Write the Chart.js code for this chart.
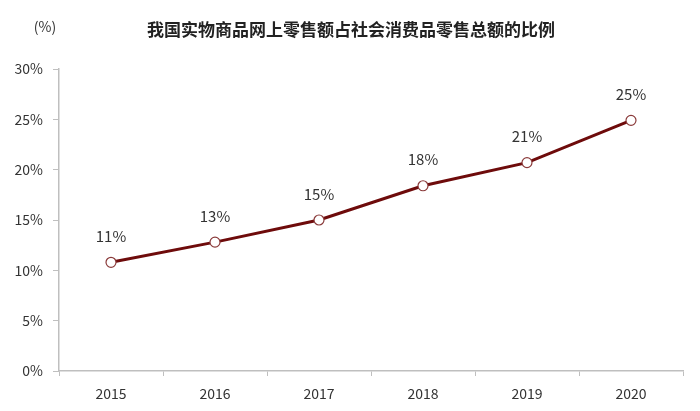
<!DOCTYPE html>
<html>
<head>
<meta charset="utf-8">
<script src="https://cdn.jsdelivr.net/npm/chart.js@4/dist/chart.umd.min.js"></script>
<style>
  html, body { margin: 0; padding: 0; background: #fff; }
  #wrap { width: 700px; height: 411px; }
</style>
</head>
<body>
<div id="wrap"><canvas id="lineChart"></canvas></div>
<script>
// chart data
var years = ['2015', '2016', '2017', '2018', '2019', '2020'];
var shareValues = [10.8, 12.8, 15.0, 18.4, 20.7, 24.9];
var shareLabels = ['11%', '13%', '15%', '18%', '21%', '25%'];
var yTicks = [0, 5, 10, 15, 20, 25, 30];
var chartTitle = '我国实物商品网上零售额占社会消费品零售总额的比例';

var font = "'Noto Sans CJK SC', 'Noto Sans', sans-serif";
var lineColor = '#6e0b0b';
var axisColor = '#bfbfbf';
var textColor = '#333333';

// draws the title, the value labels above points and the "(%)" unit
var labelPlugin = {
  id: 'labelPlugin',
  afterDatasetsDraw: function (chart) {
    var ctx = chart.ctx;
    var meta = chart.getDatasetMeta(0);
    ctx.save();
    ctx.fillStyle = textColor;
    ctx.textAlign = 'center';
    ctx.textBaseline = 'middle';
    ctx.font = '15px ' + font;
    meta.data.forEach(function (pt, i) {
      ctx.fillText(shareLabels[i], pt.x, pt.y - 26);
    });
    ctx.font = '14px ' + font;
    ctx.fillText('(%)', 45, 27);
    ctx.fillStyle = '#222222';
    ctx.font = 'bold 17px ' + font;
    ctx.fillText(chartTitle, 351, 30);
    ctx.restore();
  }
};

var ctx = document.getElementById('lineChart').getContext('2d');
var chart = new Chart(ctx, {
  type: 'line',
  data: {
    labels: years,
    datasets: [{
      data: shareValues,
      borderColor: lineColor,
      borderWidth: 3,
      pointRadius: 5,
      pointBorderWidth: 1.2,
      pointBackgroundColor: '#ffffff',
      pointBorderColor: '#8a3a3a',
      tension: 0
    }]
  },
  options: {
    responsive: true,
    maintainAspectRatio: false,
    animation: false,
    layout: { padding: { left: 0, right: 17, top: 69, bottom: 0 } },
    plugins: {
      legend: { display: false },
      tooltip: { enabled: false },
      title: { display: false }
    },
    scales: {
      x: {
        offset: true,
        grid: { offset: true, drawOnChartArea: false, drawTicks: true, tickLength: 5, color: axisColor },
        border: { color: axisColor, width: 1.5 },
        ticks: { color: textColor, font: { family: font, size: 14 }, padding: 9 },
        afterFit: function (scale) { scale.height = 40; }
      },
      y: {
        min: 0,
        max: 30,
        afterBuildTicks: function (scale) {
          scale.ticks = yTicks.map(function (v) { return { value: v }; });
        },
        grid: { drawOnChartArea: false, drawTicks: true, tickLength: 6, color: axisColor },
        border: { color: axisColor, width: 1.5 },
        ticks: {
          color: textColor,
          font: { family: font, size: 14 },
          padding: 10,
          callback: function (v) { return v + '%'; }
        },
        afterFit: function (scale) { scale.width = 59; }
      }
    }
  },
  plugins: [labelPlugin]
});
</script>
</body>
</html>
